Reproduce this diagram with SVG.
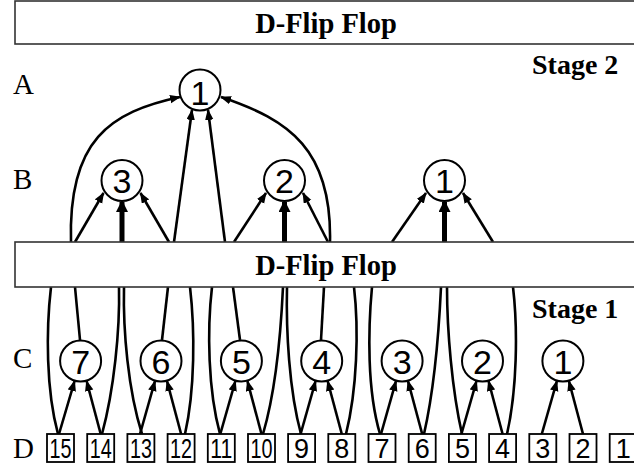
<svg xmlns="http://www.w3.org/2000/svg" width="634" height="470" viewBox="0 0 634 470">
<style>
.ff{fill:#fff;stroke:#333;stroke-width:1.6}
.fft{font-family:"Liberation Serif","Times New Roman",serif;font-weight:bold;font-size:28.5px;text-anchor:middle;fill:#000}
.stage{font-family:"Liberation Serif","Times New Roman",serif;font-weight:bold;font-size:28px;fill:#000}
.row{font-family:"Liberation Serif","Times New Roman",serif;font-size:29px;fill:#000}
.nd{fill:#fff;stroke:#000;stroke-width:2}
.nt{font-family:"Liberation Sans",Arial,sans-serif;font-size:34px;text-anchor:middle;fill:#000}
.bx{fill:#fff;stroke:#000;stroke-width:1.8}
.bt{font-family:"Liberation Sans",Arial,sans-serif;font-size:27px;text-anchor:middle;fill:#000}
.ln{fill:none;stroke:#000;stroke-width:2.6}
.ar{fill:none;stroke:#000;stroke-width:2.6;marker-end:url(#ah)}
.tk{fill:none;stroke:#000;stroke-width:5;marker-end:url(#ahk)}
</style>
<defs>
<marker id="ah" markerUnits="userSpaceOnUse" markerWidth="12" markerHeight="9" refX="10" refY="4.25" orient="auto"><path d="M0,0 L11,4.25 L0,8.5 Z" fill="#000"/></marker>
<marker id="ahk" markerUnits="userSpaceOnUse" markerWidth="13" markerHeight="13" refX="10" refY="6" orient="auto"><path d="M0,0 L12,6 L0,12 Z" fill="#000"/></marker>
</defs>
<rect width="634" height="470" fill="#fff"/>

<g id="connectors">
<!-- Stage 2 -->
<path class="ar" d="M71,242 C68,140 110,112 180,97"/>
<path class="ar" d="M174,242 L192,110"/>
<path class="ar" d="M225,242 L208,110"/>
<path class="ar" d="M330,242 C332,150 290,120 221,97"/>
<path class="ar" d="M75,242 L103.5,193"/>
<path class="tk" d="M122,242 L122,202"/>
<path class="ar" d="M169,242 L140.5,193"/>
<path class="ar" d="M234,242 L266,193"/>
<path class="tk" d="M284.5,242 L284.5,202"/>
<path class="ar" d="M328,242 L303,193"/>
<path class="ar" d="M392,242 L426,193"/>
<path class="tk" d="M444.5,242 L444.5,202"/>
<path class="ar" d="M493,242 L463,193"/>
<!-- Stage 1 curves from D to flip flop -->
<path class="ln" d="M58,434 C46,390 46,330 51,287"/>
<path class="ln" d="M102,434 C114,390 120,330 119,287"/>
<path class="ln" d="M142,434 C128,390 123,330 124,287"/>
<path class="ln" d="M185,434 C195,390 195,330 190,287"/>
<path class="ln" d="M220,434 C208,390 207,330 212,287"/>
<path class="ln" d="M263,434 C276,390 281,330 283,287"/>
<path class="ln" d="M301,434 C289,390 286,330 287,287"/>
<path class="ln" d="M346,434 C357,390 359,330 354,287"/>
<path class="ln" d="M380,434 C367,390 368,330 372,287"/>
<path class="ln" d="M424,434 C434,390 439,330 441,287"/>
<path class="ln" d="M462,434 C452,390 447,330 447,287"/>
<path class="ln" d="M507,434 C517,390 518,330 513,287"/>
<!-- C tops to flip flop -->
<path class="ln" d="M80,340 L75,287"/>
<path class="ln" d="M162,340 L168,287"/>
<path class="ln" d="M240,340 L233,287"/>
<path class="ln" d="M321,340 L324,287"/>
<!-- D to C arrows -->
<path class="ar" d="M59,434 L74.6,381"/>
<path class="ar" d="M100.7,434 L86.6,381"/>
<path class="ar" d="M140,434 L155,381"/>
<path class="ar" d="M181.1,434 L167,381"/>
<path class="ar" d="M220.3,434 L235.4,381"/>
<path class="ar" d="M261.5,434 L247.4,381"/>
<path class="ar" d="M300.6,434 L315.6,381"/>
<path class="ar" d="M341.8,434 L327.6,381"/>
<path class="ar" d="M381,434 L396,381"/>
<path class="ar" d="M422.2,434 L408,381"/>
<path class="ar" d="M461.4,434 L476.5,381"/>
<path class="ar" d="M502.6,434 L488.5,381"/>
<path class="ar" d="M541.8,434 L556.9,381"/>
<path class="ar" d="M583,434 L568.9,381"/>
</g>

<g id="ff2"><rect class="ff" x="15" y="1" width="640" height="43"/><text class="fft" x="326" y="33">D-Flip Flop</text></g>
<g id="ff1"><rect class="ff" x="15" y="242" width="640" height="45"/><text class="fft" x="326" y="275">D-Flip Flop</text></g>

<g id="labels">
<text class="stage" x="532" y="74">Stage 2</text>
<text class="stage" x="532" y="318">Stage 1</text>
<text class="row" x="13" y="94">A</text>
<text class="row" x="13" y="189">B</text>
<text class="row" x="13" y="368">C</text>
<text class="row" x="13" y="458">D</text>
</g>

<g id="A1"><circle class="nd" cx="200" cy="90" r="20.5"/><text class="nt" x="200" y="104.5">1</text></g>
<g id="B3"><circle class="nd" cx="122" cy="180.5" r="20.5"/><text class="nt" x="122" y="193">3</text></g>
<g id="B2"><circle class="nd" cx="284.5" cy="180.5" r="20.5"/><text class="nt" x="284.5" y="193">2</text></g>
<g id="B1"><circle class="nd" cx="444.5" cy="180.5" r="20.5"/><text class="nt" x="444.5" y="193">1</text></g>

<g id="C7"><circle class="nd" cx="80.6" cy="361" r="20.5"/><text class="nt" x="80.6" y="374">7</text></g>
<g id="C6"><circle class="nd" cx="161" cy="361" r="20.5"/><text class="nt" x="161" y="374">6</text></g>
<g id="C5"><circle class="nd" cx="241.4" cy="361" r="20.5"/><text class="nt" x="241.4" y="374">5</text></g>
<g id="C4"><circle class="nd" cx="321.7" cy="361" r="20.5"/><text class="nt" x="321.7" y="374">4</text></g>
<g id="C3"><circle class="nd" cx="402.1" cy="361" r="20.5"/><text class="nt" x="402.1" y="374">3</text></g>
<g id="C2"><circle class="nd" cx="482.5" cy="361" r="20.5"/><text class="nt" x="482.5" y="374">2</text></g>
<g id="C1"><circle class="nd" cx="562.9" cy="361" r="20.5"/><text class="nt" x="562.9" y="374">1</text></g>

<g id="D15"><rect class="bx" x="47" y="434" width="27" height="28"/><text class="bt" x="60.5" y="457.5" textLength="22" lengthAdjust="spacingAndGlyphs">15</text></g>
<g id="D14"><rect class="bx" x="87.2" y="434" width="27" height="28"/><text class="bt" x="100.7" y="457.5" textLength="22" lengthAdjust="spacingAndGlyphs">14</text></g>
<g id="D13"><rect class="bx" x="127.4" y="434" width="27" height="28"/><text class="bt" x="140.9" y="457.5" textLength="22" lengthAdjust="spacingAndGlyphs">13</text></g>
<g id="D12"><rect class="bx" x="167.6" y="434" width="27" height="28"/><text class="bt" x="181.1" y="457.5" textLength="22" lengthAdjust="spacingAndGlyphs">12</text></g>
<g id="D11"><rect class="bx" x="207.8" y="434" width="27" height="28"/><text class="bt" x="221.3" y="457.5" textLength="22" lengthAdjust="spacingAndGlyphs">11</text></g>
<g id="D10"><rect class="bx" x="248" y="434" width="27" height="28"/><text class="bt" x="261.5" y="457.5" textLength="22" lengthAdjust="spacingAndGlyphs">10</text></g>
<g id="D9"><rect class="bx" x="288.1" y="434" width="27" height="28"/><text class="bt" x="301.6" y="457.5">9</text></g>
<g id="D8"><rect class="bx" x="328.3" y="434" width="27" height="28"/><text class="bt" x="341.8" y="457.5">8</text></g>
<g id="D7"><rect class="bx" x="368.5" y="434" width="27" height="28"/><text class="bt" x="382" y="457.5">7</text></g>
<g id="D6"><rect class="bx" x="408.7" y="434" width="27" height="28"/><text class="bt" x="422.2" y="457.5">6</text></g>
<g id="D5"><rect class="bx" x="448.9" y="434" width="27" height="28"/><text class="bt" x="462.4" y="457.5">5</text></g>
<g id="D4"><rect class="bx" x="489.1" y="434" width="27" height="28"/><text class="bt" x="502.6" y="457.5">4</text></g>
<g id="D3"><rect class="bx" x="529.3" y="434" width="27" height="28"/><text class="bt" x="542.8" y="457.5">3</text></g>
<g id="D2"><rect class="bx" x="569.5" y="434" width="27" height="28"/><text class="bt" x="583" y="457.5">2</text></g>
<g id="D1"><rect class="bx" x="609.7" y="434" width="27" height="28"/><text class="bt" x="623.2" y="457.5">1</text></g>
</svg>
